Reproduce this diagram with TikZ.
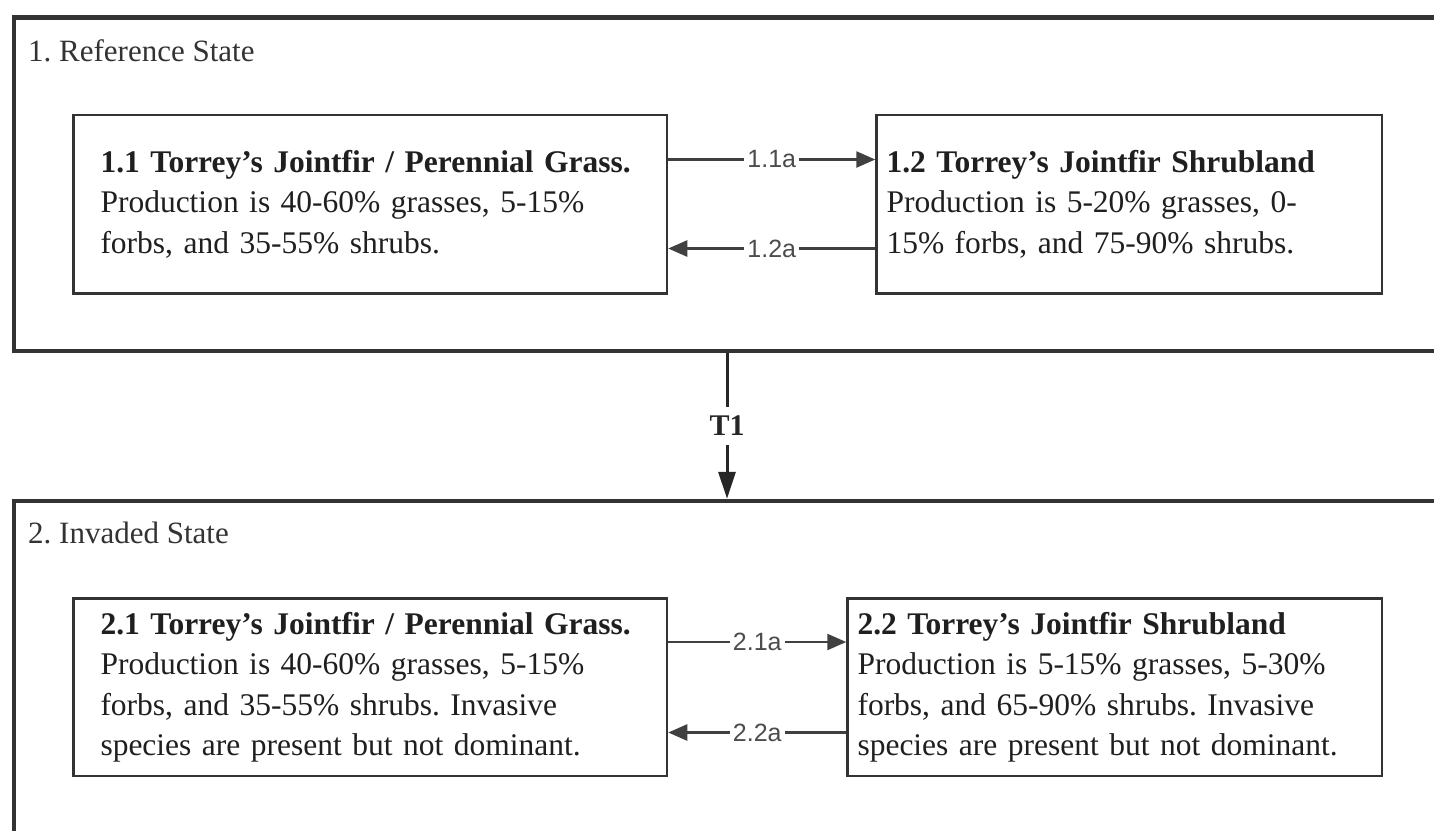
\documentclass[tikz,border=0pt]{standalone}
\usepackage{fontspec}
\setmainfont{Liberation Serif}
\newfontfamily\labelfont{Liberation Sans}
\usetikzlibrary{arrows.meta}
\frenchspacing
\begin{document}
\begin{tikzpicture}[x=1pt,y=-1pt,
  frame/.style={draw=black!80, line width=4.5pt, inner sep=0pt},
  statebox/.style={draw=black!80, line width=2.5pt, align=left, inner ysep=0pt,
    font=\fontsize{31.5}{40.5}\selectfont, text=black!88},
  flow/.style={line width=2.5pt, draw=black!75, -{Triangle[length=19pt,width=16pt]}},
  bigflow/.style={line width=3pt, draw=black!85, -{Triangle[length=27pt,width=17pt]}},
  flowlab/.style={fill=white, inner xsep=3pt, inner ysep=2pt,
    font=\labelfont\fontsize{25}{25}\selectfont, text=black!70},
  statetitle/.style={anchor=base west, inner sep=0pt,
    font=\fontsize{31}{31}\selectfont, text=black!80}]
\useasboundingbox (0,0) rectangle (1434,830);
\clip (0,0) rectangle (1434,830);
\fill[white] (0,0) rectangle (1434,830);

% state frames
\node[frame, minimum width=1446pt, minimum height=333.5pt] (s1) at (737,184.25) {};
\node[frame, minimum width=1446pt, minimum height=399pt] (s2) at (737,700.5) {};
\node[statetitle] (t1) at (28,61.5) {1. Reference State};
\node[statetitle] (t2) at (28,543.5) {2. Invaded State};

% community phase boxes
\node[statebox, minimum height=178.5pt, inner xsep=27pt, text width=539.5pt] (b11) at (370.25,204.25)
  {\textbf{1.1 Torrey’s Jointfir / Perennial Grass.}\\Production is 40-60\% grasses, 5-15\%\\forbs, and 35-55\% shrubs.};
\node[statebox, minimum height=178.5pt, inner xsep=10pt, text width=485.5pt] (b12) at (1129.25,204.25)
  {\textbf{1.2 Torrey’s Jointfir Shrubland}\\Production is 5-20\% grasses, 0-\\15\% forbs, and 75-90\% shrubs.};
\node[statebox, minimum height=177.5pt, inner xsep=27pt, text width=539.5pt] (b21) at (370.25,687.25)
  {\textbf{2.1 Torrey’s Jointfir / Perennial Grass.}\\Production is 40-60\% grasses, 5-15\%\\forbs, and 35-55\% shrubs. Invasive\\species are present but not dominant.};
\node[statebox, minimum height=177.5pt, inner xsep=10pt, text width=514.5pt] (b22) at (1114.75,687.25)
  {\textbf{2.2 Torrey’s Jointfir Shrubland}\\Production is 5-15\% grasses, 5-30\%\\forbs, and 65-90\% shrubs. Invasive\\species are present but not dominant.};

% reference coordinates for connector heights
\coordinate (y1) at (0,159.5);
\coordinate (y2) at (0,248.5);
\coordinate (y3) at (0,642);
\coordinate (y4) at (0,732.5);
\coordinate (tx) at (727,0);

\draw[flow] (b11.east |- y1) -- node[flowlab] (l11) {1.1a} (b12.west |- y1);
\draw[flow] (b12.west |- y2) -- node[flowlab] (l12) {1.2a} (b11.east |- y2);
\draw[flow] (b21.east |- y3) -- node[flowlab] (l21) {2.1a} (b22.west |- y3);
\draw[flow] (b22.west |- y4) -- node[flowlab] (l22) {2.2a} (b21.east |- y4);
\draw[bigflow] (s1.south -| tx) -- node[fill=white, inner xsep=2pt, inner ysep=9pt,
  font=\bfseries\fontsize{30}{30}\selectfont, text=black!85] (lt1) {T1} (s2.north -| tx);
\end{tikzpicture}
\end{document}
